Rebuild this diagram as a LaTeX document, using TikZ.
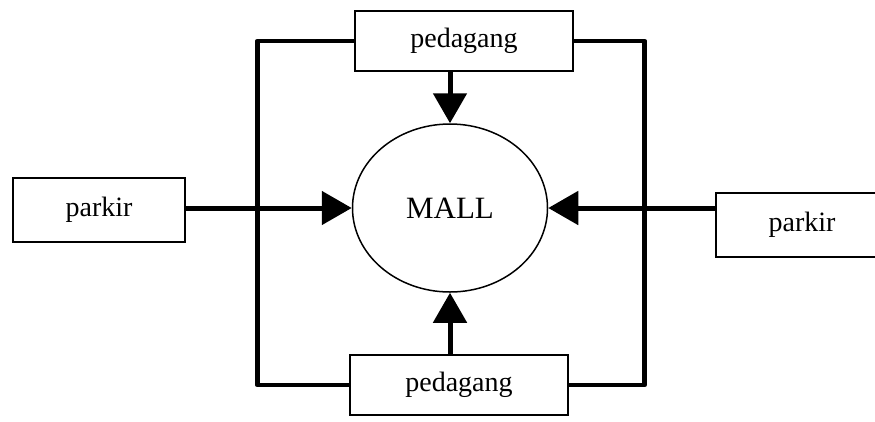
\documentclass[tikz,border=0pt]{standalone}
\usepackage{fontspec}
\setmainfont{Liberation Serif}
\usetikzlibrary{arrows.meta,shapes.geometric}

\tikzset{
  box/.style={draw, line width=1.4pt, minimum width=218pt, minimum height=60pt,
              inner sep=0pt, font=\fontsize{28}{30}\selectfont},
  sidebox/.style={box, minimum width=172pt, minimum height=64pt},
  hub/.style={draw, ellipse, line width=1.5pt, minimum width=195pt, minimum height=168pt,
              inner sep=0pt, font=\fontsize{31}{33}\selectfont},
  frame/.style={line width=4.5pt, line join=round},
  flow/.style={line width=5pt, -{Triangle[length=30pt,width=33pt]}},
}

\begin{document}
\begin{tikzpicture}[x=1pt,y=-1pt]
  \useasboundingbox (0,0) rectangle (875,421);
  \clip (0,0) rectangle (875,421);

  % centre and the four sources around it
  \node[hub] (mall) at (450,208) {MALL};
  \node[box] (tp) at (464,41) {pedagang};
  \node[box] (bt) at (459,385) {pedagang};
  \node[sidebox] (lp) at (99,210) {parkir};
  \node[sidebox] (rp) at (802,225) {parkir};

  % frame joining the two traders
  \draw[frame] (tp.west) -- ++(-97,0) |- (bt.west);
  \draw[frame] (tp.east) -- ++(71,0) |- (bt.east);

  % flows into the mall
  \draw[flow] (mall.north |- tp.south) -- (mall.north);
  \draw[flow] (mall.south |- bt.north) -- (mall.south);
  \draw[flow] (lp.east |- mall.west) -- (mall.west);
  \draw[flow] (rp.west |- mall.east) -- (mall.east);
\end{tikzpicture}
\end{document}
